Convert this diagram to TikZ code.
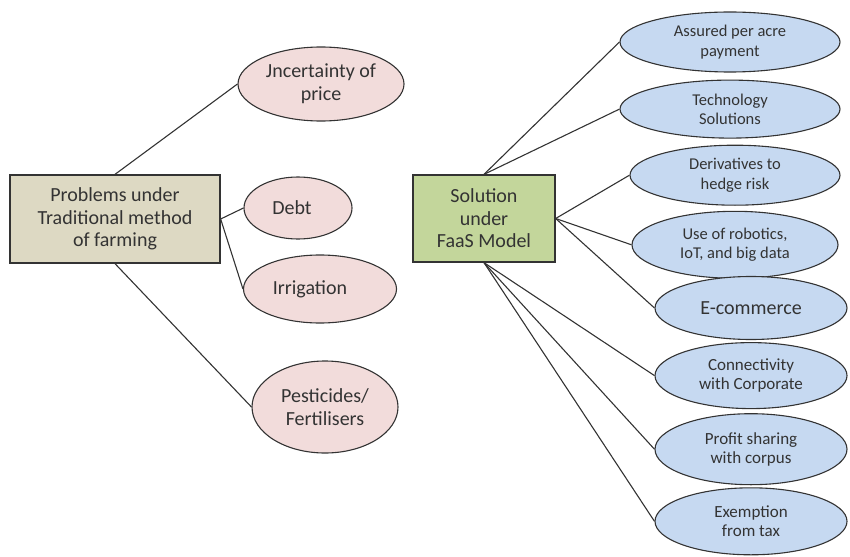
\documentclass[tikz,border=0pt]{standalone}
\usepackage{fontspec}
\setmainfont{Carlito}
\usepackage{tikz}
\usetikzlibrary{positioning,shapes.geometric}

\definecolor{tanfill}{HTML}{DDD9C3}
\definecolor{greenfill}{HTML}{C3D69B}
\definecolor{pinkfill}{HTML}{F2DCDB}
\definecolor{bluefill}{HTML}{C6D9F1}
\definecolor{inkgray}{HTML}{333333}

\begin{document}
\begin{tikzpicture}[x=1pt, y=-1pt,
    box/.style={draw=inkgray, line width=1.3pt, align=center, text=inkgray, inner sep=0pt, font=\fontsize{20}{22.5}\selectfont},
    issue/.style={ellipse, draw=inkgray, line width=1.1pt, fill=pinkfill, align=center, text=inkgray, inner sep=0pt, font=\fontsize{20}{23}\selectfont},
    remedy/.style={ellipse, draw=inkgray, line width=1.1pt, fill=bluefill, align=center, text=inkgray, inner sep=0pt, font=\fontsize{16.5}{19.5}\selectfont},
    bigremedy/.style={remedy, minimum width=192pt, font=\fontsize{17}{19}\selectfont},
    link/.style={draw=inkgray, line width=1.1pt}]

    \useasboundingbox (0,0) rectangle (850,556);

    % left half
    \node[box, fill=tanfill, minimum width=210pt, minimum height=88pt] (problems) at (115,219) {Problems under\\Traditional method\\of farming};
    \node[issue, minimum width=166pt, minimum height=74pt] (price) at (321,84) {Jncertainty of\\price};
    \node[issue, minimum width=108pt, minimum height=62pt] (debt) at (298,208) {\hspace*{-12pt}Debt};
    \node[issue, minimum width=153pt, minimum height=68pt] (irrigation) at (320,289) {\hspace*{-20pt}Irrigation};
    \node[issue, minimum width=146pt, minimum height=92pt] (pesticides) at (325,407) {Pesticides/\\Fertilisers};

    % right half
    \node[box, fill=greenfill, minimum width=142pt, minimum height=87pt] (faas) at (484,218.5) {Solution\\under\\FaaS Model};
    \node[remedy, minimum width=220pt, minimum height=60pt] (acre) at (730,42) {Assured per acre\\payment};
    \node[remedy, minimum width=220pt, minimum height=58pt, below=7pt of acre] (tech) {Technology\\Solutions};
    \node[remedy, minimum width=210pt, minimum height=60pt, below=6pt of tech, xshift=5pt] (hedge) {Derivatives to\\hedge risk};
    \node[remedy, minimum width=206pt, minimum height=67pt, below=5pt of hedge] (robotics) {Use of robotics,\\IoT, and big data};
    \node[bigremedy, minimum height=63pt, font=\fontsize{20}{22}\selectfont] (ecommerce) at (751,308) {E-commerce};
    \node[bigremedy, minimum height=66pt, below=2pt of ecommerce] (corporate) {Connectivity\\with Corporate};
    \node[bigremedy, minimum height=71pt, below=4pt of corporate] (corpus) {Profit sharing\\with corpus};
    \node[bigremedy, minimum height=67pt, below=2pt of corpus] (tax) {Exemption\\from tax};

    \draw[link] (problems.north) -- (price.west);
    \draw[link] (problems.east) -- (debt.west);
    \draw[link] (problems.east) -- (irrigation.west);
    \draw[link] (problems.south) -- (pesticides.west);

    \foreach \n in {acre, tech}
      \draw[link] (faas.north) -- (\n.west);
    \foreach \n in {hedge, robotics, ecommerce}
      \draw[link] (faas.east) -- (\n.west);
    \foreach \n in {corporate, corpus, tax}
      \draw[link] (faas.south) -- (\n.west);
\end{tikzpicture}
\end{document}
